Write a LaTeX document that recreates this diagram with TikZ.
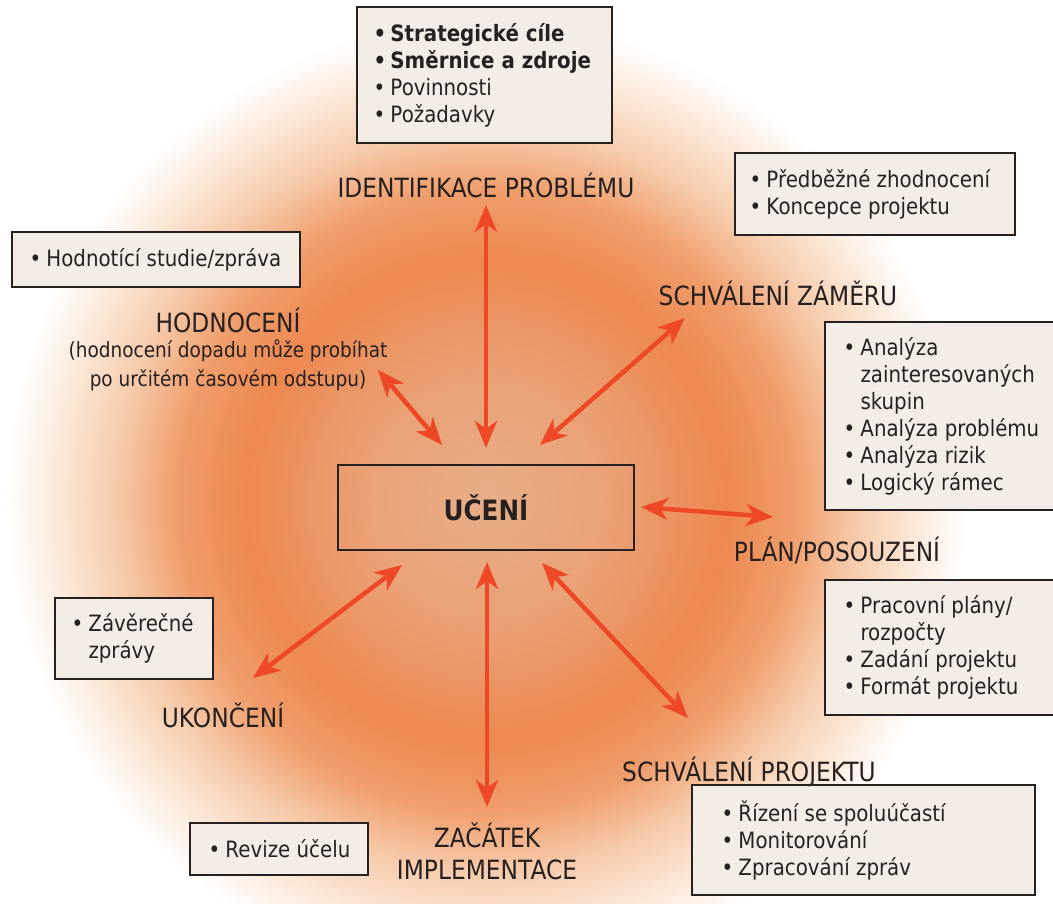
\documentclass[tikz,border=0pt]{standalone}
\usepackage{fontspec}
\usetikzlibrary{arrows.meta}
\newfontfamily\dv[FakeStretch=0.88]{DejaVu Sans}
\definecolor{ink}{RGB}{38,32,32}
\definecolor{arrc}{RGB}{238,72,38}
\definecolor{boxfill}{RGB}{244,237,230}
\definecolor{g0}{RGB}{232,174,136}
\definecolor{g1}{RGB}{234,160,116}
\definecolor{g2}{RGB}{237,136,80}
\definecolor{g3}{RGB}{240,158,108}
\definecolor{g4}{RGB}{246,202,170}
\definecolor{g5}{RGB}{251,233,217}
\pgfdeclareradialshading{glow}{\pgfpointorigin}{color(0bp)=(g0); color(6.5bp)=(g1); color(12bp)=(g2); color(15.5bp)=(g3); color(18.5bp)=(g4); color(21.5bp)=(g5); color(24bp)=(white); color(50bp)=(white)}
\newcommand\lf{\dv\fontsize{22.5}{27}\selectfont}
\newcommand\bl{\makebox[17pt][l]{•}}
\newcommand\ind{\hspace*{17pt}}
\tikzset{
  lab/.style={font=\dv\fontsize{26.5}{32}\selectfont, text=ink, align=center, inner sep=0pt},
  sub/.style={font=\dv\fontsize{21}{29}\selectfont, text=ink, align=center, inner sep=0pt},
  listbox/.style={draw=ink, line width=1.4pt, fill=boxfill},
  listtext/.style={text=ink, align=left, font=\lf, inner sep=0pt, anchor=west},
  centerbox/.style={draw=ink, line width=1.4pt, text=ink, font=\dv\bfseries\fontsize{28}{32}\selectfont},
  link/.style={draw=arrc, line width=4.5pt,
    {Stealth[length=27pt,width=22pt,inset=8pt]}-{Stealth[length=27pt,width=22pt,inset=8pt]}}
}
\begin{document}
\begin{tikzpicture}[x=1pt,y=-1pt]
\useasboundingbox (0,0) rectangle (1053,904);
\clip (0,0) rectangle (1053,904);
\fill[white] (0,0) rectangle (1053,904);
\shade[shading=glow] (486,500) circle (500pt);

% boxes
\node[listbox, minimum width=255pt, minimum height=136pt] (obj) at (484.5,75) {};
\node[listtext] (objt) at ([xshift=17pt]obj.west)
  {\textbf{\bl Strategické cíle}\\ \textbf{\bl Směrnice a zdroje}\\ \bl Povinnosti\\ \bl Požadavky};
\node[listbox, minimum width=280pt, minimum height=82pt] (pred) at (875,194) {};
\node[listtext] (predt) at ([xshift=15pt]pred.west)
  {\bl Předběžné zhodnocení\\ \bl Koncepce projektu};
\node[listbox, minimum width=288pt, minimum height=55pt] (hodnb) at (156,259.5) {};
\node[listtext] (hodnbt) at ([xshift=18pt]hodnb.west)
  {\bl Hodnotící studie/zpráva};
\node[listbox, minimum width=240pt, minimum height=188pt] (ana) at (945,416) {};
\node[listtext] (anat) at ([xshift=19pt]ana.west)
  {\bl Analýza\\ \ind zainteresovaných\\ \ind skupin\\ \bl Analýza problému\\ \bl Analýza rizik\\ \bl Logický rámec};
\node[listbox, minimum width=240pt, minimum height=135pt] (prac) at (945,647.5) {};
\node[listtext] (pract) at ([xshift=19pt]prac.west)
  {\bl Pracovní plány/\\ \ind rozpočty\\ \bl Zadání projektu\\ \bl Formát projektu};
\node[listbox, minimum width=158pt, minimum height=81pt] (zav) at (134,638.5) {};
\node[listtext] (zavt) at ([xshift=17pt]zav.west)
  {\bl Závěrečné\\ \ind zprávy};
\node[listbox, minimum width=343pt, minimum height=110pt] (riz) at (863.5,840) {};
\node[listtext] (rizt) at ([xshift=30pt]riz.west)
  {\bl Řízení se spoluúčastí\\ \bl Monitorování\\ \bl Zpracování zpráv};
\node[listbox, minimum width=178pt, minimum height=52pt] (rev) at (279,849) {};
\node[listtext] (revt) at ([xshift=19pt]rev.west)
  {\bl Revize účelu};
\node[centerbox, minimum width=296pt, minimum height=85pt] (uceni) at (486,507.5) {UČENÍ};

% labels
\node[lab] (idp) at (486,185) {IDENTIFIKACE PROBLÉMU};
\node[lab] (szam) at (778,293) {SCHVÁLENÍ ZÁMĚRU};
\node[lab] (hod) at (228,320) {HODNOCENÍ};
\node[sub] (hodsub) at (228,365) {(hodnocení dopadu může probíhat\\ po určitém časovém odstupu)};
\node[lab] (plan) at (837,550) {PLÁN/POSOUZENÍ};
\node[lab] (sproj) at (749,772) {SCHVÁLENÍ PROJEKTU};
\node[lab] (zac) at (487,851) {ZAČÁTEK\\ IMPLEMENTACE};
\node[lab] (uk) at (223,715) {UKONČENÍ};

% arrow end points
\coordinate (a1s) at (486,205); \coordinate (a1e) at (486,448);
\coordinate (a2s) at (378,370); \coordinate (a2e) at (442,445);
\coordinate (a3s) at (685,318); \coordinate (a3e) at (540,445);
\coordinate (a4s) at (641,507); \coordinate (a4e) at (773,517);
\coordinate (a5s) at (542,563); \coordinate (a5e) at (688,718);
\coordinate (a6s) at (487,562); \coordinate (a6e) at (487,807);
\coordinate (a7s) at (402,565); \coordinate (a7e) at (253,678);

\draw[link] (a1s) -- (a1e);
\draw[link] (a2s) -- (a2e);
\draw[link] (a3s) -- (a3e);
\draw[link] (a4s) -- (a4e);
\draw[link] (a5s) -- (a5e);
\draw[link] (a6s) -- (a6e);
\draw[link] (a7s) -- (a7e);
\end{tikzpicture}
\end{document}
